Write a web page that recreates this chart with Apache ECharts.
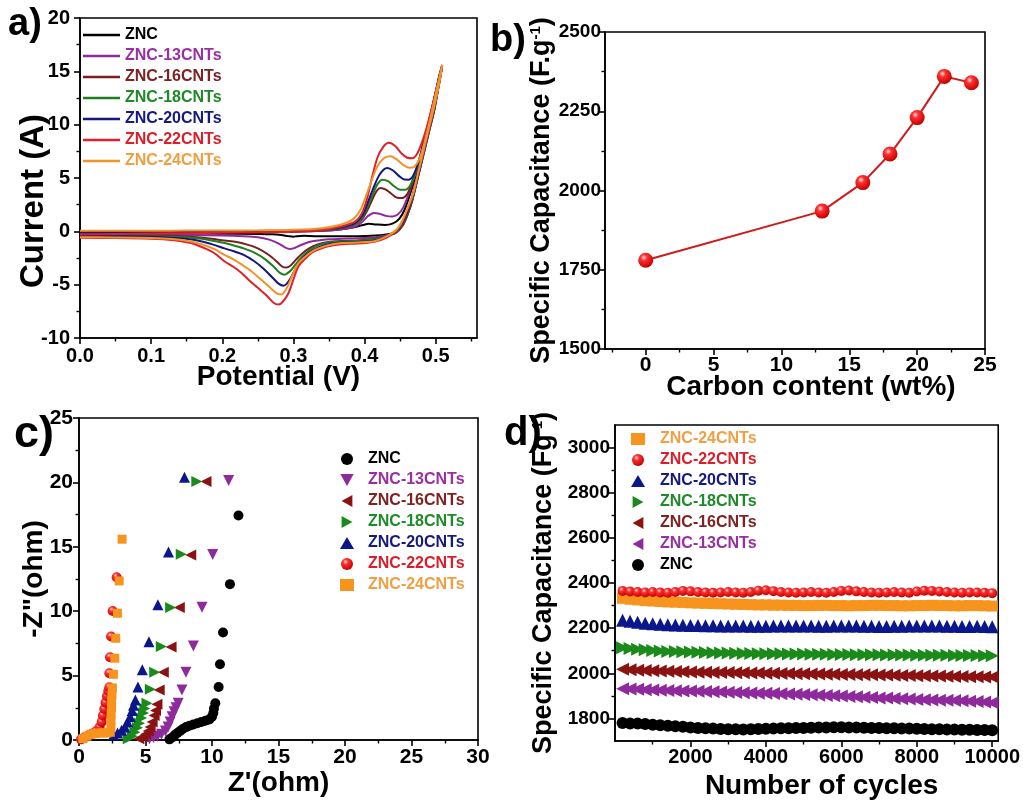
<!DOCTYPE html>
<html><head><meta charset="utf-8">
<script src="https://cdn.jsdelivr.net/npm/echarts@6/dist/echarts.min.js"></script>
<style>html,body{margin:0;padding:0;background:#fff}#c{width:1023px;height:801px}</style>
</head><body><div id="c"></div><script>
// ---------------- DATA ----------------
const seriesNames = ['ZNC','ZNC-13CNTs','ZNC-16CNTs','ZNC-18CNTs','ZNC-20CNTs','ZNC-22CNTs','ZNC-24CNTs'];

// (a) CV loops: [potential V, current A] — forward sweep then reverse sweep
const cvZNC = [[0,-0.1],[0.05,-0.08],[0.1,-0.07],[0.15,-0.06],[0.2,-0.05],[0.25,-0.04],[0.3,-0.02],[0.34,0.05],[0.368,0.2],[0.387,0.4],[0.398,0.6],[0.406,0.7],[0.416,0.65],[0.428,0.6],[0.44,0.75],[0.449,1.2],[0.456,2.0],[0.463,3.3],[0.47,4.8],[0.478,6.6],[0.486,8.7],[0.494,10.9],[0.501,13.2],[0.506,14.7],[0.509,15.5],
  [0.505,14.0],[0.498,11.4],[0.49,9.2],[0.482,7.0],[0.474,4.8],[0.467,2.9],[0.46,1.5],[0.453,0.5],[0.444,-0.1],[0.43,-0.3],[0.415,-0.4],[0.39,-0.45],[0.368,-0.45],[0.349,-0.45],[0.33,-0.45],[0.315,-0.42],[0.305,-0.45],[0.3,-0.5],[0.293,-0.45],[0.283,-0.35],[0.27,-0.28],[0.25,-0.25],[0.2,-0.22],[0.15,-0.2],[0.1,-0.2],[0,-0.2]];
const cv13 = [[0,-0.1],[0.05,-0.08],[0.1,-0.07],[0.15,-0.06],[0.2,-0.05],[0.25,-0.04],[0.3,-0.02],[0.34,0.05],[0.368,0.2],[0.387,0.45],[0.397,0.9],[0.405,1.45],[0.413,1.72],[0.421,1.65],[0.43,1.45],[0.439,1.4],[0.447,1.6],[0.454,2.2],[0.461,3.3],[0.468,4.7],[0.476,6.4],[0.484,8.5],[0.492,10.7],[0.5,13.0],[0.505,14.5],[0.509,15.5],
  [0.505,14.0],[0.498,11.4],[0.49,9.2],[0.482,7.0],[0.474,4.8],[0.467,2.9],[0.46,1.5],[0.453,0.5],[0.444,-0.15],[0.43,-0.4],[0.415,-0.55],[0.39,-0.65],[0.368,-0.7],[0.349,-0.75],[0.335,-0.85],[0.322,-1.0],[0.31,-1.3],[0.3,-1.6],[0.295,-1.65],[0.288,-1.5],[0.278,-1.1],[0.266,-0.78],[0.25,-0.55],[0.23,-0.45],[0.2,-0.38],[0.15,-0.35],[0.1,-0.33],[0.05,-0.32],[0,-0.3]];
const cv16 = [[0,-0.1],[0.05,-0.08],[0.1,-0.07],[0.15,-0.06],[0.2,-0.05],[0.25,-0.03],[0.3,0.0],[0.34,0.1],[0.368,0.3],[0.387,0.65],[0.397,1.2],[0.404,2.0],[0.411,3.0],[0.417,3.8],[0.4225,4.07],[0.43,3.9],[0.438,3.5],[0.446,3.15],[0.453,3.13],[0.46,3.5],[0.467,4.6],[0.475,6.3],[0.483,8.3],[0.491,10.5],[0.499,12.8],[0.505,14.5],[0.509,15.5],
  [0.505,14.0],[0.498,11.5],[0.49,9.3],[0.482,7.1],[0.474,4.9],[0.467,3.0],[0.46,1.6],[0.453,0.6],[0.444,-0.1],[0.43,-0.45],[0.415,-0.7],[0.39,-0.85],[0.368,-0.9],[0.349,-1.0],[0.335,-1.2],[0.322,-1.6],[0.312,-2.1],[0.303,-2.7],[0.296,-3.2],[0.29,-3.4],[0.284,-3.3],[0.276,-2.8],[0.265,-2.2],[0.25,-1.6],[0.235,-1.25],[0.22,-1.0],[0.203,-0.87],[0.185,-0.7],[0.165,-0.55],[0.14,-0.45],[0.1,-0.4],[0.05,-0.38],[0,-0.36]];
const cv18 = [[0,-0.1],[0.05,-0.08],[0.1,-0.07],[0.15,-0.06],[0.2,-0.05],[0.25,-0.03],[0.3,0.0],[0.34,0.12],[0.368,0.35],[0.387,0.7],[0.397,1.3],[0.404,2.3],[0.411,3.4],[0.418,4.4],[0.425,4.84],[0.433,4.7],[0.442,4.2],[0.45,3.9],[0.457,3.9],[0.464,4.3],[0.472,5.6],[0.479,7.1],[0.487,9.2],[0.495,11.5],[0.502,13.6],[0.509,15.5],
  [0.505,14.0],[0.498,11.6],[0.49,9.4],[0.482,7.2],[0.474,5.0],[0.467,3.1],[0.46,1.7],[0.453,0.7],[0.444,-0.05],[0.43,-0.45],[0.415,-0.75],[0.39,-0.9],[0.368,-0.95],[0.349,-1.05],[0.335,-1.3],[0.322,-1.8],[0.312,-2.4],[0.303,-3.1],[0.296,-3.7],[0.29,-4.0],[0.288,-4.06],[0.281,-3.9],[0.272,-3.3],[0.26,-2.6],[0.245,-2.0],[0.23,-1.6],[0.215,-1.3],[0.203,-1.1],[0.185,-0.85],[0.165,-0.65],[0.14,-0.52],[0.1,-0.45],[0.05,-0.42],[0,-0.4]];
const cv20 = [[0,-0.1],[0.05,-0.08],[0.1,-0.07],[0.15,-0.06],[0.2,-0.05],[0.25,-0.03],[0.3,0.0],[0.34,0.15],[0.368,0.4],[0.387,0.8],[0.397,1.5],[0.405,2.8],[0.412,4.0],[0.42,5.2],[0.427,5.8],[0.432,5.94],[0.44,5.7],[0.449,5.15],[0.456,4.85],[0.462,4.84],[0.469,5.3],[0.477,6.8],[0.485,8.9],[0.493,11.0],[0.5,13.0],[0.505,14.6],[0.509,15.5],
  [0.505,14.0],[0.498,11.7],[0.49,9.5],[0.482,7.3],[0.474,5.1],[0.467,3.2],[0.46,1.8],[0.453,0.8],[0.444,0.0],[0.43,-0.5],[0.415,-0.85],[0.39,-1.0],[0.368,-1.05],[0.349,-1.2],[0.335,-1.5],[0.322,-2.0],[0.312,-2.6],[0.303,-3.5],[0.296,-4.4],[0.29,-4.95],[0.286,-5.09],[0.279,-4.9],[0.27,-4.3],[0.258,-3.5],[0.245,-2.8],[0.23,-2.2],[0.215,-1.85],[0.203,-1.6],[0.185,-1.2],[0.165,-0.85],[0.14,-0.65],[0.1,-0.5],[0.05,-0.45],[0,-0.42]];
const cv22 = [[0,-0.3],[0.05,-0.25],[0.1,-0.2],[0.15,-0.17],[0.2,-0.13],[0.25,-0.1],[0.3,-0.03],[0.34,0.12],[0.368,0.47],[0.387,0.94],[0.397,1.8],[0.404,3.2],[0.411,5.2],[0.418,6.9],[0.426,7.9],[0.434,8.3],[0.443,8.0],[0.452,7.3],[0.46,6.9],[0.467,6.85],[0.474,7.3],[0.482,8.6],[0.49,10.4],[0.498,12.5],[0.504,14.2],[0.509,15.6],
  [0.506,14.3],[0.499,12.0],[0.491,9.8],[0.483,7.6],[0.475,5.4],[0.467,3.3],[0.46,2.0],[0.453,0.9],[0.444,0.0],[0.43,-0.6],[0.415,-0.95],[0.39,-1.15],[0.368,-1.2],[0.349,-1.4],[0.335,-1.7],[0.326,-2.0],[0.316,-2.6],[0.307,-3.3],[0.3,-4.5],[0.293,-5.8],[0.285,-6.6],[0.279,-6.87],[0.272,-6.7],[0.262,-6.0],[0.25,-5.3],[0.238,-4.6],[0.227,-3.9],[0.215,-3.3],[0.203,-2.8],[0.19,-2.1],[0.179,-1.7],[0.165,-1.3],[0.156,-1.1],[0.13,-0.82],[0.1,-0.7],[0.05,-0.63],[0,-0.6]];
const cv24 = [[0,0.05],[0.05,0.06],[0.1,0.06],[0.15,0.07],[0.2,0.08],[0.25,0.1],[0.3,0.15],[0.34,0.3],[0.365,0.6],[0.383,1.1],[0.394,2.0],[0.402,3.3],[0.41,4.8],[0.418,6.1],[0.428,6.9],[0.437,7.05],[0.446,6.7],[0.455,6.2],[0.463,5.95],[0.47,6.05],[0.477,6.8],[0.484,8.3],[0.491,10.2],[0.499,12.6],[0.505,14.4],[0.509,15.6],
  [0.507,14.6],[0.5,12.3],[0.492,10.1],[0.484,7.9],[0.476,5.7],[0.468,3.5],[0.46,2.1],[0.453,1.0],[0.444,0.1],[0.43,-0.5],[0.415,-0.9],[0.39,-1.05],[0.368,-1.1],[0.349,-1.3],[0.335,-1.6],[0.326,-1.9],[0.316,-2.4],[0.307,-3.0],[0.3,-3.9],[0.293,-5.0],[0.287,-5.7],[0.283,-5.93],[0.276,-5.8],[0.266,-5.2],[0.254,-4.5],[0.24,-3.7],[0.227,-3.1],[0.215,-2.6],[0.203,-2.2],[0.19,-1.7],[0.175,-1.3],[0.156,-0.95],[0.13,-0.72],[0.1,-0.62],[0.05,-0.57],[0,-0.55]];

// (b) specific capacitance vs carbon content
const carbonContent = [0, 13, 16, 18, 20, 22, 24];
const capacitanceB = [1780, 1935, 2025, 2115, 2230, 2360, 2340];

// (c) Nyquist: [Z' ohm, -Z'' ohm]
const eisZNC = [[6.8,0.05],[7.0,0.2],[7.2,0.38],[7.4,0.55],[7.6,0.7],[7.8,0.85],[8.05,1.0],[8.3,1.1],[8.6,1.2],[8.9,1.3],[9.2,1.4],[9.5,1.5],[9.8,1.6],[10.0,1.8],[10.1,2.1],[10.15,2.45],[10.25,2.85],[10.5,4.12],[10.6,5.88],[10.83,8.34],[11.35,12.1],[11.99,17.43]];
const eis13 = [[5.3,0.1],[5.6,0.2],[5.9,0.3],[6.2,0.45],[6.5,0.7],[6.7,1.0],[6.85,1.4],[7.0,1.8],[7.15,2.2],[7.3,2.5],[7.46,2.85],[7.74,3.88],[8.04,5.26],[8.6,7.3],[9.25,10.3],[10.05,14.4],[11.25,20.15]];
const eis16 = [[4.5,0.1],[4.8,0.25],[5.0,0.45],[5.2,0.7],[5.35,1.0],[5.5,1.4],[5.65,1.9],[5.75,2.3],[5.86,2.77],[6.03,3.88],[6.34,5.26],[6.92,7.23],[7.54,10.28],[8.4,14.37],[9.55,20.07]];
const eis18 = [[3.7,0.1],[4.0,0.3],[4.2,0.6],[4.4,0.95],[4.55,1.3],[4.7,1.7],[4.85,2.1],[4.95,2.45],[5.11,2.85],[5.36,3.94],[5.69,5.26],[6.19,7.25],[6.89,10.28],[7.69,14.43],[8.86,20.07]];
const eis20 = [[2.6,0.4],[2.9,0.55],[3.2,0.75],[3.45,1.0],[3.65,1.4],[3.85,1.8],[4.0,2.3],[4.1,2.7],[4.24,3.1],[4.43,4.11],[4.76,5.46],[5.26,7.62],[5.93,10.5],[6.73,14.6],[7.93,20.4]];
const eis22 = [[0.15,0.05],[0.4,0.2],[0.7,0.35],[1.0,0.5],[1.3,0.7],[1.55,1.0],[1.7,1.4],[1.8,1.9],[1.9,2.4],[2.0,2.9],[2.1,3.4],[2.2,3.8],[2.28,4.09],[2.28,5.18],[2.33,6.43],[2.41,8.03],[2.53,10.02],[2.83,12.64]];
const eis24 = [[0.3,0.1],[0.6,0.3],[0.9,0.45],[1.2,0.5],[1.5,0.55],[1.8,0.55],[2.1,0.55],[2.35,0.6],[2.4,1.0],[2.4,1.5],[2.42,2.0],[2.45,2.5],[2.45,3.0],[2.48,3.5],[2.51,4.04],[2.59,5.1],[2.69,6.35],[2.76,7.9],[2.89,9.84],[3.02,12.35],[3.24,15.59]];

// (d) cycling stability
const cycles = [200,400,600,800,1000,1200,1400,1600,1800,2000,2200,2400,2600,2800,3000,3200,3400,3600,3800,4000,4200,4400,4600,4800,5000,5200,5400,5600,5800,6000,6200,6400,6600,6800,7000,7200,7400,7600,7800,8000,8200,8400,8600,8800,9000,9200,9400,9600,9800,10000];
const cycZNC = [1780,1778,1777,1775,1772,1770,1768,1765,1763,1760,1758,1756,1755,1753,1752,1752,1751,1752,1753,1754,1755,1756,1757,1758,1758,1759,1760,1760,1761,1761,1760,1760,1759,1758,1758,1757,1756,1755,1755,1754,1753,1752,1752,1751,1751,1750,1750,1749,1749,1748];
const cyc13 = [1932,1930,1929,1927,1926,1925,1924,1923,1922,1921,1920,1919,1918,1917,1916,1915,1914,1913,1912,1911,1910,1909,1908,1907,1906,1905,1903,1902,1900,1899,1897,1896,1894,1893,1891,1890,1888,1887,1886,1884,1883,1882,1881,1880,1879,1878,1876,1875,1873,1870];
const cyc16 = [2018,2016,2014,2012,2011,2010,2009,2008,2007,2006,2005,2005,2004,2003,2003,2002,2002,2001,2001,2000,2000,1999,1999,1998,1998,1997,1997,1996,1996,1995,1995,1994,1993,1993,1992,1992,1991,1990,1990,1989,1989,1988,1988,1987,1986,1986,1985,1985,1984,1983];
const cyc18 = [2113,2110,2107,2104,2101,2099,2097,2096,2095,2094,2093,2092,2091,2090,2090,2089,2088,2088,2087,2087,2086,2086,2085,2085,2085,2084,2084,2084,2083,2083,2083,2082,2082,2082,2082,2081,2081,2081,2081,2080,2080,2080,2080,2080,2079,2079,2079,2079,2078,2078];
const cyc20 = [2235,2230,2226,2222,2219,2217,2215,2214,2213,2212,2212,2211,2211,2210,2210,2209,2209,2208,2208,2208,2209,2209,2210,2210,2209,2209,2208,2208,2209,2210,2210,2209,2208,2208,2207,2207,2208,2208,2209,2209,2210,2210,2209,2208,2208,2207,2207,2208,2207,2206];
const cyc22 = [2365,2362,2360,2358,2360,2358,2357,2360,2365,2363,2360,2358,2357,2358,2360,2358,2357,2360,2366,2368,2364,2360,2358,2357,2358,2360,2358,2357,2360,2365,2367,2363,2360,2358,2357,2358,2360,2358,2357,2362,2366,2365,2362,2360,2358,2357,2358,2358,2357,2355];
const cyc24 = [2332,2328,2325,2322,2320,2318,2316,2315,2314,2312,2311,2310,2309,2308,2307,2306,2305,2304,2303,2303,2302,2302,2301,2301,2300,2300,2301,2301,2300,2300,2299,2300,2300,2301,2301,2300,2300,2299,2299,2300,2300,2301,2300,2300,2299,2299,2300,2300,2299,2298];

// tick values
const aXTicks = [0,0.1,0.2,0.3,0.4,0.5], aXMinor = [0.05,0.15,0.25,0.35,0.45,0.55];
const aYTicks = [-10,-5,0,5,10,15,20], aYMinor = [-7.5,-2.5,2.5,7.5,12.5,17.5];
const bXTicks = [0,5,10,15,20,25], bXMinor = [-2.5,2.5,7.5,12.5,17.5,22.5];
const bYTicks = [1500,1750,2000,2250,2500], bYMinor = [1625,1875,2125,2375];
const cXTicks = [0,5,10,15,20,25,30], cXMinor = [2.5,7.5,12.5,17.5,22.5,27.5];
const cYTicks = [0,5,10,15,20,25], cYMinor = [2.5,7.5,12.5,17.5,22.5];
const dXTicks = [2000,4000,6000,8000,10000], dXMinor = [1000,3000,5000,7000,9000];
const dYTicks = [1800,2000,2200,2400,2600,2800,3000], dYMinor = [1900,2100,2300,2500,2700,2900];

// ---------------- STYLE ----------------
const FF = 'Liberation Sans, Arial, Helvetica, sans-serif';
const lineColors = ['#000000','#8e2a9c','#7a1f1f','#1e7f1e','#15167f','#e0202a','#f2932a'];
const legendTextA = ['#000000','#9a2fa3','#7e2222','#1f8a2a','#161a80','#d91f2a','#f0a043'];
const markColors = ['#000000','#8e2a9c','#8b1212','#1a8a1a','#0b168a','#ee1c24','#f7941d'];
const redBall = {type:'radial', x:0.38, y:0.32, r:0.7, colorStops:[{offset:0,color:'#ffe0e0'},{offset:0.3,color:'#ff3030'},{offset:1,color:'#c00000'}]};
const pDown = 'path://M0,0L10,0L5,9Z', pLeft = 'path://M9,0L9,10L0,5Z', pRight = 'path://M0,0L0,10L9,5Z';

function axes(dim, gridIndex, min, max, major, minor, opt) {
  const pos = dim === 'x' ? 'bottom' : 'left';
  const base = {type:'value', gridIndex, min, max, position:pos, splitLine:{show:false}, boundaryGap:[0,0]};
  const m = Object.assign({}, base, {
    axisLine:{show:true, onZero:false, lineStyle:{color:'#000', width:1.6}},
    axisTick:{show:true, inside:false, length:6, customValues:major, lineStyle:{color:'#000', width:1.6}},
    axisLabel:{show:true, customValues:major, margin:opt.margin, fontSize:opt.fs, fontWeight:'bold', fontFamily:FF, color:'#000', formatter:opt.fmt || (v=>String(v))},
    name:opt.name, nameLocation:'middle', nameGap:opt.gap, nameMoveOverlap:false,
    nameTextStyle:Object.assign({fontSize:opt.nfs, fontWeight:'bold', fontFamily:FF, color:'#000'}, opt.nts || {})
  });
  const n = Object.assign({}, base, {
    axisLine:{show:false, onZero:false},
    axisTick:{show:true, inside:false, length:3.5, customValues:minor, lineStyle:{color:'#000', width:1.4}},
    axisLabel:{show:false}
  });
  return [m, n];
}

const grids = [
  {left:80, top:18, width:397, height:320},
  {left:605, top:32, width:380, height:317},
  {left:79, top:418, width:399, height:322},
  {left:615, top:425, width:393, height:317}
].map(g => Object.assign(g, {show:true, borderColor:'#000', borderWidth:1.6, backgroundColor:'transparent'}));

const supStyle = {rich:{sup:{fontSize:15, fontWeight:'bold', fontFamily:FF, color:'#000', verticalAlign:'top', padding:[0,0,12,0]}}};
const xAxes = [].concat(
  axes('x',0,0,0.558,aXTicks,aXMinor,{margin:8, fs:20, fmt:v=>v.toFixed(1), name:'Potential (V)', gap:25, nfs:28}),
  axes('x',1,-3,25,bXTicks,bXMinor,{margin:6, fs:21, name:'Carbon content (wt%)', gap:24, nfs:28, nts:{padding:[0,0,0,32]}}),
  axes('x',2,0,30,cXTicks,cXMinor,{margin:7, fs:21, name:"Z'(ohm)", gap:29, nfs:28}),
  axes('x',3,0,10160,dXTicks,dXMinor,{margin:6, fs:20, name:'Number of cycles', gap:31, nfs:28, nts:{padding:[0,0,0,30]}})
);
const yAxes = [].concat(
  axes('y',0,-10,20,aYTicks,aYMinor,{margin:10, fs:20, name:'Current (A)', gap:30, nfs:33, nts:{padding:[0,46,0,0]}}),
  axes('y',1,1500,2500,bYTicks,bYMinor,{margin:4, fs:19, name:'Specific Capacitance (F.g{sup|-1})', gap:50, nfs:27, nts:supStyle}),
  axes('y',2,0,25,cYTicks,cYMinor,{margin:6, fs:21, name:'-Z"(ohm)', gap:31, nfs:28}),
  axes('y',3,1700,3100,dYTicks,dYMinor,{margin:5, fs:19, name:'Specific Capacitance (Fg{sup|-1})', gap:58, nfs:27, nts:supStyle})
);
// major axis indices: 0,2,4,6

const series = [];
const cvData = [cvZNC, cv13, cv16, cv18, cv20, cv22, cv24];
cvData.forEach((d,i) => series.push({
  name:'a:'+seriesNames[i], type:'line', xAxisIndex:0, yAxisIndex:0, data:d, smooth:0.3, symbol:'none',
  lineStyle:{color:lineColors[i], width:2}, itemStyle:{color:lineColors[i]}, z:2+i
}));
series.push({
  name:'b', type:'line', xAxisIndex:2, yAxisIndex:2, data:carbonContent.map((c,i)=>[c, capacitanceB[i]]),
  symbol:'circle', symbolSize:15, lineStyle:{color:'#cf1b1b', width:2}, itemStyle:{color:redBall, borderWidth:0}
});
const cSyms = ['circle', pDown, pLeft, pRight, 'triangle', 'circle', 'rect'];
const cSizes = [10, 11, 11, 11, 11, 10, 9];
const eisData = [eisZNC, eis13, eis16, eis18, eis20, eis22, eis24];
eisData.forEach((d,i) => series.push({
  name:'c:'+seriesNames[i], type:'scatter', xAxisIndex:4, yAxisIndex:4, data:d,
  symbol:cSyms[i], symbolSize:cSizes[i], itemStyle:{color: i===5 ? redBall : markColors[i], opacity:1}, z:2+i
}));
const dSyms = ['circle', pLeft, pLeft, pRight, 'triangle', 'circle', 'rect'];
const dSizes = [12, 13, 13, 13, 13, 10, 11];
const cycData = [cycZNC, cyc13, cyc16, cyc18, cyc20, cyc22, cyc24];
[6,5,4,3,2,1,0].forEach(i => series.push({
  name:'d:'+seriesNames[i], type:'scatter', xAxisIndex:6, yAxisIndex:6, data:cycles.map((c,k)=>[c, cycData[i][k]]),
  symbol:dSyms[i], symbolSize:dSizes[i], itemStyle:{color: i===5 ? redBall : markColors[i], opacity:1}
}));

const legendBase = {orient:'vertical', selectedMode:false, itemGap:5, itemHeight:12, padding:0,
  formatter:n=>n.slice(2), textStyle:{fontSize:16, fontWeight:'bold', fontFamily:FF, lineHeight:16}};
const legends = [
  Object.assign({}, legendBase, {left:83, top:27, itemWidth:37, itemHeight:2.5,
    data:seriesNames.map((n,i)=>({name:'a:'+n, icon:'rect', textStyle:{color:legendTextA[i]}}))}),
  Object.assign({}, legendBase, {left:340, top:451, itemWidth:14, textStyle:Object.assign({}, legendBase.textStyle, {padding:[0,0,0,9]}),
    data:seriesNames.map((n,i)=>({name:'c:'+n, textStyle:{color:legendTextA[i]}}))}),
  Object.assign({}, legendBase, {left:631, top:431, itemWidth:14, textStyle:Object.assign({}, legendBase.textStyle, {padding:[0,0,0,10]}),
    data:[6,5,4,3,2,1,0].map(i=>({name:'d:'+seriesNames[i], textStyle:{color:legendTextA[i]}}))})
];

const panelLabels = [['a)',8,6,38],['b)',490,22,38],['c)',14,412,45],['d)',504,414,40]].map(([t,x,y,s]) => ({
  type:'text', left:x, top:y, style:{text:t, font:'bold ' + s + 'px ' + FF, fill:'#000'}
}));

const chart = echarts.init(document.getElementById('c'), null, {renderer:'canvas'});
chart.setOption({
  animation:false, backgroundColor:'#fff',
  grid:grids, xAxis:xAxes, yAxis:yAxes, series, legend:legends, graphic:panelLabels
});
</script></body></html>
